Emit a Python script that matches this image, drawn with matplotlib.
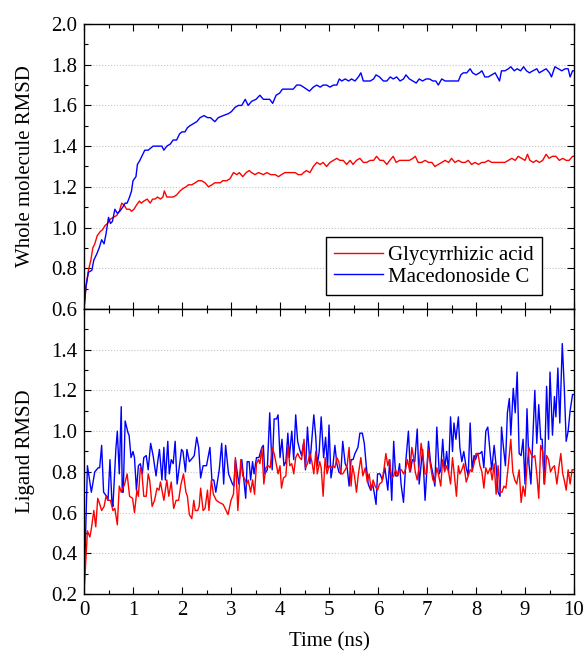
import matplotlib
matplotlib.use("Agg")
import matplotlib.pyplot as plt
from matplotlib.ticker import MultipleLocator, FormatStrFormatter

# whole molecule RMSD (top panel)
top_red_t = [0, 0.04, 0.09, 0.14, 0.18, 0.22, 0.27, 0.33, 0.38, 0.43,
             0.48, 0.53, 0.60, 0.67, 0.72, 0.77, 0.82, 0.87, 0.93, 0.97,
             1.02, 1.07, 1.13, 1.17, 1.22, 1.29, 1.35, 1.40, 1.45, 1.50,
             1.56, 1.61, 1.64, 1.69, 1.76, 1.82, 1.89, 1.96, 2.01, 2.08,
             2.13, 2.20, 2.27, 2.33, 2.40, 2.47, 2.54, 2.61, 2.67, 2.78,
             2.83, 2.91, 2.98, 3.05, 3.12, 3.17, 3.24, 3.31, 3.37, 3.42,
             3.49, 3.56, 3.66, 3.73, 3.81, 3.90, 3.97, 4.03, 4.10, 4.17,
             4.24, 4.31, 4.37, 4.44, 4.48, 4.54, 4.61, 4.68, 4.75, 4.82,
             4.88, 4.95, 5.02, 5.09, 5.16, 5.22, 5.29, 5.36, 5.43, 5.49,
             5.56, 5.63, 5.70, 5.77, 5.84, 5.91, 5.97, 6.04, 6.11, 6.18,
             6.24, 6.31, 6.37, 6.44, 6.50, 6.57, 6.64, 6.71, 6.76, 6.82,
             6.89, 6.96, 7.03, 7.10, 7.16, 7.23, 7.30, 7.37, 7.44, 7.50,
             7.57, 7.64, 7.71, 7.78, 7.84, 7.91, 7.98, 8.05, 8.12, 8.18,
             8.25, 8.32, 8.39, 8.46, 8.52, 8.59, 8.66, 8.73, 8.80, 8.86,
             8.93, 9.00, 9.05, 9.10, 9.17, 9.23, 9.29, 9.36, 9.43, 9.49,
             9.56, 9.63, 9.70, 9.77, 9.84, 9.90, 9.97, 10.0]
top_red = [0.60, 0.71, 0.79, 0.84, 0.90, 0.92, 0.96, 0.98, 0.99, 1.01,
           1.02, 1.04, 1.05, 1.06, 1.08, 1.12, 1.11, 1.09, 1.09, 1.08,
           1.09, 1.11, 1.13, 1.12, 1.13, 1.14, 1.12, 1.14, 1.14, 1.15,
           1.14, 1.15, 1.18, 1.15, 1.15, 1.15, 1.16, 1.18, 1.19, 1.20,
           1.21, 1.21, 1.22, 1.23, 1.23, 1.22, 1.20, 1.21, 1.22, 1.22,
           1.23, 1.23, 1.24, 1.27, 1.26, 1.27, 1.25, 1.27, 1.28, 1.27,
           1.26, 1.27, 1.26, 1.27, 1.26, 1.26, 1.25, 1.26, 1.27, 1.27,
           1.27, 1.27, 1.26, 1.26, 1.27, 1.28, 1.27, 1.30, 1.32, 1.31,
           1.32, 1.30, 1.32, 1.33, 1.34, 1.33, 1.33, 1.31, 1.33, 1.31,
           1.33, 1.34, 1.32, 1.32, 1.33, 1.33, 1.35, 1.33, 1.33, 1.31,
           1.33, 1.35, 1.32, 1.33, 1.33, 1.33, 1.33, 1.34, 1.35, 1.32,
           1.32, 1.33, 1.32, 1.32, 1.30, 1.31, 1.32, 1.33, 1.32, 1.34,
           1.32, 1.33, 1.32, 1.32, 1.33, 1.31, 1.32, 1.31, 1.32, 1.32,
           1.33, 1.32, 1.32, 1.32, 1.32, 1.32, 1.33, 1.34, 1.33, 1.35,
           1.34, 1.33, 1.36, 1.33, 1.32, 1.33, 1.32, 1.33, 1.36, 1.34,
           1.35, 1.35, 1.33, 1.34, 1.33, 1.33, 1.35, 1.35]

top_blue_t = [0, 0.04, 0.09, 0.16, 0.20, 0.26, 0.31, 0.36, 0.41, 0.45,
              0.50, 0.54, 0.58, 0.63, 0.68, 0.73, 0.79, 0.84, 0.88, 0.93,
              0.97, 1.00, 1.06, 1.09, 1.14, 1.20, 1.24, 1.31, 1.36, 1.41,
              1.47, 1.52, 1.59, 1.63, 1.69, 1.76, 1.82, 1.89, 1.95, 2.00,
              2.06, 2.11, 2.16, 2.23, 2.30, 2.37, 2.45, 2.52, 2.58, 2.67,
              2.74, 2.84, 2.95, 3.01, 3.08, 3.15, 3.22, 3.29, 3.35, 3.42,
              3.51, 3.59, 3.66, 3.73, 3.79, 3.85, 3.92, 3.99, 4.05, 4.12,
              4.19, 4.27, 4.34, 4.41, 4.48, 4.54, 4.60, 4.68, 4.75, 4.82,
              4.88, 4.95, 5.02, 5.09, 5.16, 5.21, 5.26, 5.33, 5.40, 5.46,
              5.53, 5.60, 5.65, 5.70, 5.77, 5.84, 5.91, 5.96, 6.03, 6.11,
              6.18, 6.25, 6.31, 6.38, 6.45, 6.52, 6.57, 6.64, 6.71, 6.78,
              6.84, 6.91, 6.98, 7.05, 7.12, 7.18, 7.23, 7.30, 7.37, 7.44,
              7.54, 7.64, 7.69, 7.74, 7.81, 7.88, 7.93, 8.00, 8.07, 8.12,
              8.18, 8.25, 8.32, 8.39, 8.48, 8.52, 8.59, 8.66, 8.71, 8.78,
              8.84, 8.91, 8.97, 9.03, 9.09, 9.16, 9.24, 9.29, 9.36, 9.43,
              9.50, 9.54, 9.61, 9.68, 9.75, 9.82, 9.88, 9.92, 9.97, 10.0]
top_blue = [0.60, 0.71, 0.78, 0.79, 0.84, 0.87, 0.90, 0.94, 0.92, 0.97,
            1.05, 1.02, 1.03, 1.09, 1.07, 1.08, 1.10, 1.12, 1.12, 1.15,
            1.18, 1.23, 1.25, 1.31, 1.33, 1.36, 1.38, 1.38, 1.39, 1.40,
            1.40, 1.40, 1.40, 1.38, 1.40, 1.41, 1.43, 1.43, 1.46, 1.47,
            1.47, 1.49, 1.50, 1.51, 1.52, 1.54, 1.55, 1.54, 1.54, 1.52,
            1.54, 1.55, 1.56, 1.57, 1.59, 1.60, 1.60, 1.63, 1.60, 1.62,
            1.63, 1.65, 1.63, 1.63, 1.63, 1.61, 1.65, 1.66, 1.68, 1.68,
            1.68, 1.68, 1.70, 1.70, 1.69, 1.68, 1.67, 1.69, 1.70, 1.69,
            1.70, 1.70, 1.69, 1.70, 1.70, 1.73, 1.72, 1.73, 1.72, 1.73,
            1.72, 1.74, 1.76, 1.72, 1.72, 1.72, 1.73, 1.75, 1.74, 1.72,
            1.72, 1.74, 1.73, 1.74, 1.72, 1.73, 1.75, 1.73, 1.72, 1.71,
            1.73, 1.72, 1.73, 1.73, 1.72, 1.72, 1.70, 1.73, 1.72, 1.72,
            1.72, 1.72, 1.75, 1.76, 1.76, 1.78, 1.76, 1.75, 1.76, 1.77,
            1.74, 1.74, 1.75, 1.76, 1.72, 1.77, 1.77, 1.78, 1.79, 1.77,
            1.78, 1.77, 1.79, 1.77, 1.76, 1.77, 1.78, 1.76, 1.77, 1.78,
            1.76, 1.74, 1.79, 1.78, 1.77, 1.78, 1.78, 1.74, 1.77, 1.77]

# ligand RMSD (bottom panel)
bot_red_t = [0, 0.07, 0.12, 0.15, 0.20, 0.24, 0.28, 0.31, 0.36, 0.41,
             0.45, 0.49, 0.54, 0.59, 0.63, 0.68, 0.72, 0.76, 0.83, 0.88,
             0.93, 0.99, 1.03, 1.08, 1.11, 1.15, 1.18, 1.22, 1.27, 1.31,
             1.34, 1.39, 1.44, 1.49, 1.53, 1.56, 1.63, 1.69, 1.73, 1.78,
             1.83, 1.88, 1.93, 1.98, 2.03, 2.08, 2.11, 2.15, 2.20, 2.24,
             2.27, 2.32, 2.35, 2.38, 2.43, 2.47, 2.52, 2.55, 2.60, 2.64,
             2.70, 2.76, 2.84, 2.94, 3.00, 3.05, 3.09, 3.14, 3.20, 3.24,
             3.29, 3.32, 3.35, 3.40, 3.44, 3.48, 3.52, 3.56, 3.59, 3.63,
             3.67, 3.71, 3.76, 3.80, 3.84, 3.88, 3.93, 3.96, 4.00, 4.03,
             4.07, 4.12, 4.16, 4.20, 4.24, 4.28, 4.32, 4.36, 4.40, 4.44,
             4.49, 4.52, 4.56, 4.61, 4.65, 4.69, 4.73, 4.76, 4.81, 4.84,
             4.88, 4.92, 4.96, 5.00, 5.04, 5.08, 5.12, 5.16, 5.20, 5.24,
             5.28, 5.33, 5.37, 5.41, 5.45, 5.48, 5.52, 5.56, 5.60, 5.65,
             5.69, 5.74, 5.78, 5.82, 5.86, 5.90, 5.94, 5.99, 6.03, 6.08,
             6.12, 6.16, 6.20, 6.23, 6.28, 6.32, 6.36, 6.40, 6.44, 6.48,
             6.52, 6.56, 6.60, 6.65, 6.69, 6.72, 6.76, 6.80, 6.84, 6.88,
             6.92, 6.96, 6.99, 7.03, 7.07, 7.12, 7.16, 7.20, 7.24, 7.28,
             7.32, 7.36, 7.40, 7.44, 7.48, 7.52, 7.56, 7.60, 7.64, 7.67,
             7.71, 7.75, 7.80, 7.84, 7.88, 7.92, 7.96, 8.00, 8.04, 8.08,
             8.12, 8.16, 8.20, 8.24, 8.29, 8.33, 8.37, 8.41, 8.45, 8.49,
             8.53, 8.57, 8.61, 8.65, 8.71, 8.75, 8.79, 8.83, 8.88, 8.92,
             8.96, 9.00, 9.04, 9.08, 9.12, 9.16, 9.20, 9.24, 9.28, 9.32,
             9.36, 9.40, 9.44, 9.48, 9.52, 9.56, 9.60, 9.65, 9.69, 9.73,
             9.77, 9.80, 9.84, 9.88, 9.92, 9.96, 10.0]
bot_red = [0.20, 0.51, 0.48, 0.52, 0.61, 0.53, 0.67, 0.65, 0.61, 0.63,
           0.68, 0.66, 0.66, 0.61, 0.62, 0.54, 0.73, 0.70, 0.74, 0.79,
           0.68, 0.67, 0.60, 0.71, 0.68, 0.82, 0.80, 0.68, 0.68, 0.79,
           0.76, 0.63, 0.66, 0.72, 0.71, 0.75, 0.66, 0.76, 0.68, 0.75,
           0.62, 0.66, 0.66, 0.74, 0.79, 0.70, 0.68, 0.59, 0.57, 0.66,
           0.61, 0.61, 0.63, 0.72, 0.61, 0.62, 0.71, 0.61, 0.76, 0.69,
           0.66, 0.65, 0.64, 0.59, 0.66, 0.69, 0.87, 0.61, 0.86, 0.78,
           0.76, 0.74, 0.76, 0.70, 0.76, 0.69, 0.84, 0.86, 0.84, 0.92,
           0.74, 0.82, 0.83, 0.82, 0.92, 0.89, 0.83, 0.79, 0.83, 0.72,
           0.77, 0.78, 0.93, 0.83, 0.84, 0.79, 0.87, 0.89, 0.87, 0.86,
           0.96, 0.82, 0.84, 0.89, 0.85, 0.79, 0.90, 0.79, 0.85, 0.82,
           0.68, 0.87, 0.79, 0.83, 0.82, 0.83, 0.82, 0.87, 0.85, 0.79,
           0.79, 0.81, 0.83, 0.92, 0.73, 0.83, 0.78, 0.70, 0.79, 0.87,
           0.78, 0.82, 0.75, 0.79, 0.71, 0.76, 0.73, 0.71, 0.74, 0.75,
           0.81, 0.89, 0.83, 0.86, 0.77, 0.78, 0.81, 0.78, 0.81, 0.81,
           0.79, 0.81, 0.86, 0.80, 0.92, 0.88, 0.80, 0.76, 0.83, 0.94,
           0.87, 0.79, 0.79, 0.91, 0.83, 0.76, 0.75, 0.82, 0.78, 0.73,
           0.86, 0.80, 0.83, 0.80, 0.74, 0.87, 0.78, 0.68, 0.83, 0.79,
           0.81, 0.84, 0.75, 0.78, 0.81, 0.80, 0.84, 0.89, 0.89, 0.83,
           0.80, 0.72, 0.82, 0.79, 0.82, 0.76, 0.84, 0.69, 0.83, 0.70,
           0.70, 0.73, 0.72, 0.81, 0.96, 0.80, 0.76, 0.74, 0.81, 0.65,
           0.73, 0.68, 0.83, 0.92, 0.89, 0.87, 0.88, 0.79, 0.67, 0.93,
           0.90, 0.74, 0.88, 0.86, 0.80, 0.82, 0.83, 0.74, 0.82, 0.89,
           0.79, 0.76, 0.71, 0.81, 0.74, 0.81, 0.81]

bot_blue_t = [0, 0.07, 0.15, 0.22, 0.29, 0.32, 0.36, 0.40, 0.46, 0.49,
              0.53, 0.57, 0.59, 0.65, 0.68, 0.72, 0.76, 0.78, 0.80, 0.84,
              0.90, 0.92, 0.96, 1.00, 1.03, 1.07, 1.11, 1.15, 1.19, 1.22,
              1.27, 1.31, 1.36, 1.41, 1.47, 1.51, 1.54, 1.59, 1.63, 1.66,
              1.71, 1.74, 1.78, 1.82, 1.86, 1.90, 1.99, 2.02, 2.07, 2.10,
              2.15, 2.22, 2.25, 2.30, 2.34, 2.38, 2.43, 2.50, 2.57, 2.61,
              2.65, 2.69, 2.76, 2.81, 2.85, 2.89, 2.95, 3.03, 3.06, 3.09,
              3.16, 3.22, 3.30, 3.33, 3.37, 3.40, 3.44, 3.47, 3.52, 3.57,
              3.63, 3.66, 3.69, 3.74, 3.79, 3.84, 3.88, 3.93, 3.96, 4.00,
              4.04, 4.08, 4.12, 4.16, 4.19, 4.24, 4.28, 4.32, 4.36, 4.40,
              4.44, 4.48, 4.52, 4.56, 4.61, 4.65, 4.69, 4.73, 4.76, 4.80,
              4.84, 4.89, 4.93, 4.97, 5.00, 5.04, 5.08, 5.12, 5.16, 5.20,
              5.24, 5.28, 5.33, 5.37, 5.41, 5.45, 5.49, 5.53, 5.59, 5.63,
              5.68, 5.72, 5.76, 5.80, 5.85, 5.89, 5.92, 5.96, 5.99, 6.04,
              6.09, 6.14, 6.20, 6.24, 6.28, 6.32, 6.36, 6.40, 6.44, 6.47,
              6.52, 6.57, 6.62, 6.66, 6.70, 6.75, 6.80, 6.84, 6.88, 6.91,
              6.96, 6.99, 7.03, 7.07, 7.12, 7.16, 7.20, 7.25, 7.28, 7.32,
              7.36, 7.40, 7.44, 7.48, 7.52, 7.55, 7.59, 7.64, 7.67, 7.71,
              7.75, 7.80, 7.84, 7.88, 7.92, 7.96, 7.99, 8.03, 8.08, 8.12,
              8.16, 8.20, 8.24, 8.29, 8.32, 8.37, 8.41, 8.45, 8.49, 8.52,
              8.56, 8.60, 8.64, 8.68, 8.71, 8.76, 8.80, 8.84, 8.88, 8.92,
              8.96, 9.00, 9.04, 9.08, 9.12, 9.16, 9.20, 9.24, 9.28, 9.32,
              9.35, 9.39, 9.44, 9.48, 9.51, 9.56, 9.60, 9.63, 9.67, 9.71,
              9.76, 9.80, 9.84, 9.88, 9.92, 9.97, 10.0]
bot_blue = [0.20, 0.83, 0.70, 0.80, 0.82, 0.82, 0.93, 0.70, 0.68, 0.66,
            0.86, 0.65, 0.63, 0.91, 1.00, 0.79, 1.12, 0.70, 0.70, 1.05,
            0.99, 0.98, 0.87, 0.90, 0.87, 0.71, 0.83, 0.84, 0.79, 0.87,
            0.88, 0.81, 0.94, 0.88, 0.78, 0.86, 0.91, 0.76, 0.92, 0.76,
            0.95, 0.79, 0.86, 0.84, 0.95, 0.74, 0.91, 0.90, 0.80, 0.91,
            0.85, 0.87, 0.88, 0.97, 0.92, 0.77, 0.83, 0.83, 0.92, 0.76,
            0.76, 0.70, 0.81, 0.94, 0.74, 0.93, 0.79, 0.74, 0.73, 0.86,
            0.74, 0.86, 0.67, 0.85, 0.85, 0.76, 0.85, 0.79, 0.87, 0.87,
            0.92, 0.93, 0.79, 0.81, 1.09, 0.81, 1.06, 1.06, 1.08, 0.87,
            0.96, 0.83, 0.85, 0.99, 0.87, 1.00, 0.86, 1.08, 0.95, 0.91,
            0.88, 0.94, 0.81, 1.02, 0.84, 0.96, 1.08, 0.97, 0.83, 0.90,
            1.07, 0.87, 0.97, 0.82, 1.03, 0.77, 0.83, 0.93, 0.84, 0.80,
            0.79, 0.95, 0.84, 0.82, 0.73, 0.86, 0.86, 0.89, 0.92, 0.99,
            0.99, 0.94, 0.83, 0.74, 0.71, 0.74, 0.70, 0.64, 0.79, 0.79,
            0.76, 0.82, 0.71, 0.86, 0.66, 0.95, 0.78, 0.78, 0.84, 0.74,
            0.65, 0.86, 1.00, 0.80, 0.86, 0.85, 1.01, 0.74, 0.84, 0.91,
            0.66, 0.78, 0.95, 0.85, 0.79, 0.73, 1.02, 0.79, 0.81, 0.96,
            0.81, 0.90, 0.80, 1.07, 0.90, 1.04, 0.96, 1.07, 0.92, 0.85,
            0.90, 0.82, 0.78, 1.04, 0.81, 0.88, 0.86, 0.89, 0.89, 0.90,
            0.82, 1.00, 1.02, 0.89, 0.81, 0.93, 0.83, 0.70, 0.68, 1.02,
            0.92, 0.83, 1.09, 1.16, 0.98, 1.21, 1.09, 1.29, 0.89, 0.88,
            0.96, 0.74, 1.11, 0.84, 0.74, 0.97, 1.20, 0.94, 1.13, 0.96,
            0.96, 0.74, 1.22, 0.96, 1.29, 0.98, 1.17, 1.07, 1.31, 1.04,
            1.43, 1.22, 0.95, 1.00, 1.10, 1.18, 1.18]

plt.rcParams['font.family'] = 'Liberation Serif'
plt.rcParams['font.size'] = 15

fig = plt.figure(figsize=(5.87, 6.52), dpi=100)
ax1 = fig.add_axes([0.1431, 0.5261, 0.8348, 0.4371])
ax2 = fig.add_axes([0.1431, 0.0890, 0.8348, 0.4371], sharex=ax1)

ax1.plot(top_red_t, top_red, color='#ff0000', lw=1.0, label='Glycyrrhizic acid')
ax1.plot(top_blue_t, top_blue, color='#0000ff', lw=1.0, label='Macedonoside C')
ax2.plot(bot_blue_t, bot_blue, color='#0000ff', lw=1.0)
ax2.plot(bot_red_t, bot_red, color='#ff0000', lw=1.0)

for ax in (ax1, ax2):
    ax.set_xlim(0, 10)
    ax.xaxis.set_major_locator(MultipleLocator(1))
    ax.xaxis.set_minor_locator(MultipleLocator(0.5))
    ax.yaxis.set_minor_locator(MultipleLocator(0.1))
    ax.yaxis.set_major_formatter(FormatStrFormatter('%.1f'))
    ax.tick_params(which='both', direction='in', top=True, right=True, width=0.8)
    ax.tick_params(which='major', length=5, pad=5, labelsize=15)
    ax.tick_params(which='minor', length=3)
    ax.grid(axis='y', which='major', ls=':', color='#c4c4c4', lw=0.8)
    ax.set_axisbelow(True)
    for s in ax.spines.values():
        s.set_linewidth(1.0)

ax1.set_ylim(0.6, 2.0)
ax1.set_yticks([0.6, 0.8, 1.0, 1.2, 1.4, 1.6, 1.8, 2.0])
ax1.tick_params(labelbottom=False)

ax2.set_ylim(0.2, 1.6)
ax2.set_yticks([0.2, 0.4, 0.6, 0.8, 1.0, 1.2, 1.4])

ax1.set_ylabel('Whole molecule RMSD')
ax2.set_ylabel('Ligand RMSD')
ax1.yaxis.set_label_coords(-0.1, 0.5)
ax2.yaxis.set_label_coords(-0.1, 0.5)
ax2.set_xlabel('Time (ns)', labelpad=9)

leg = ax1.legend(loc='lower right', bbox_to_anchor=(0.935, 0.049), borderaxespad=0,
                 fancybox=False, edgecolor='black', framealpha=1, borderpad=0.4,
                 labelspacing=0.1, handlelength=2.35, handletextpad=0.25, fontsize=15)
leg.get_frame().set_linewidth(1.0)

fig.savefig('out.png', dpi=100)
